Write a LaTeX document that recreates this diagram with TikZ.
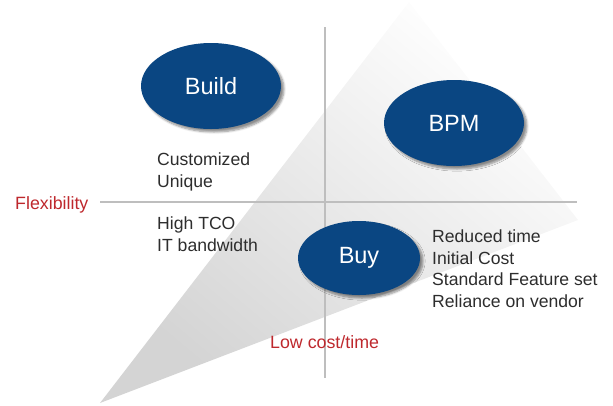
\documentclass[tikz,border=0pt]{standalone}
\usepackage{fontspec}
\setmainfont{Liberation Sans}
\usetikzlibrary{shadows.blur,shapes.geometric}
\definecolor{ovalblue}{RGB}{10,70,130}
\definecolor{axred}{RGB}{190,40,45}
\definecolor{txtgray}{RGB}{45,45,45}
\definecolor{axgray}{RGB}{190,190,190}
\tikzset{
  oval/.style={ellipse, fill=ovalblue, text=white, inner sep=0pt,
    blur shadow={shadow xshift=3pt, shadow yshift=-3pt, shadow opacity=45, shadow blur steps=6}},
  note/.style={anchor=base west, text=txtgray, align=left, inner sep=0pt,
    font=\fontsize{17.6}{21.5}\selectfont},
  axlabel/.style={text=axred, inner sep=0pt, font=\fontsize{17.8}{20}\selectfont},
  axis/.style={draw=axgray, line width=2.2pt}
}
\begin{document}
\begin{tikzpicture}[x=1pt,y=-1pt]
\useasboundingbox (0,0) rectangle (613,405);
% shaded triangle
\coordinate (tb) at (100,403);
\coordinate (tt) at (409,2);
\coordinate (tr) at (578,220);
\shade[top color=white, bottom color=black!17, shading angle=-40] (tb) -- (tt) -- (tr) -- cycle;
% axes
\coordinate (vt) at (325,27);
\coordinate (vb) at (325,378);
\coordinate (hl) at (100,202);
\coordinate (hr) at (577,202);
\draw[axis] (vt) -- (vb);
\draw[axis] (hl) -- (hr);
% ovals
\node[oval, minimum width=140pt, minimum height=86pt, font=\fontsize{23.5}{23.5}\selectfont] (build) at (211,86) {Build};
\node[oval, minimum width=140pt, minimum height=86pt, font=\fontsize{23.5}{23.5}\selectfont] (bpm) at (454,123) {BPM};
\node[oval, minimum width=122pt, minimum height=74pt, font=\fontsize{23.5}{23.5}\selectfont] (buy) at (359,258) {Buy};
% notes (anchored at the baseline of the last line)
\node[note] (cust) at (157,187) {Customized\\Unique};
\node[note] (tco) at (157,251) {High TCO\\IT bandwidth};
\node[note] (red) at (432,307) {Reduced time\\Initial Cost\\Standard Feature set\\Reliance on vendor};
% axis labels
\node[axlabel, anchor=base west] (flex) at (15,209) {Flexibility};
\node[axlabel, anchor=base west] (low) at (270,348) {Low cost/time};
\end{tikzpicture}
\end{document}
